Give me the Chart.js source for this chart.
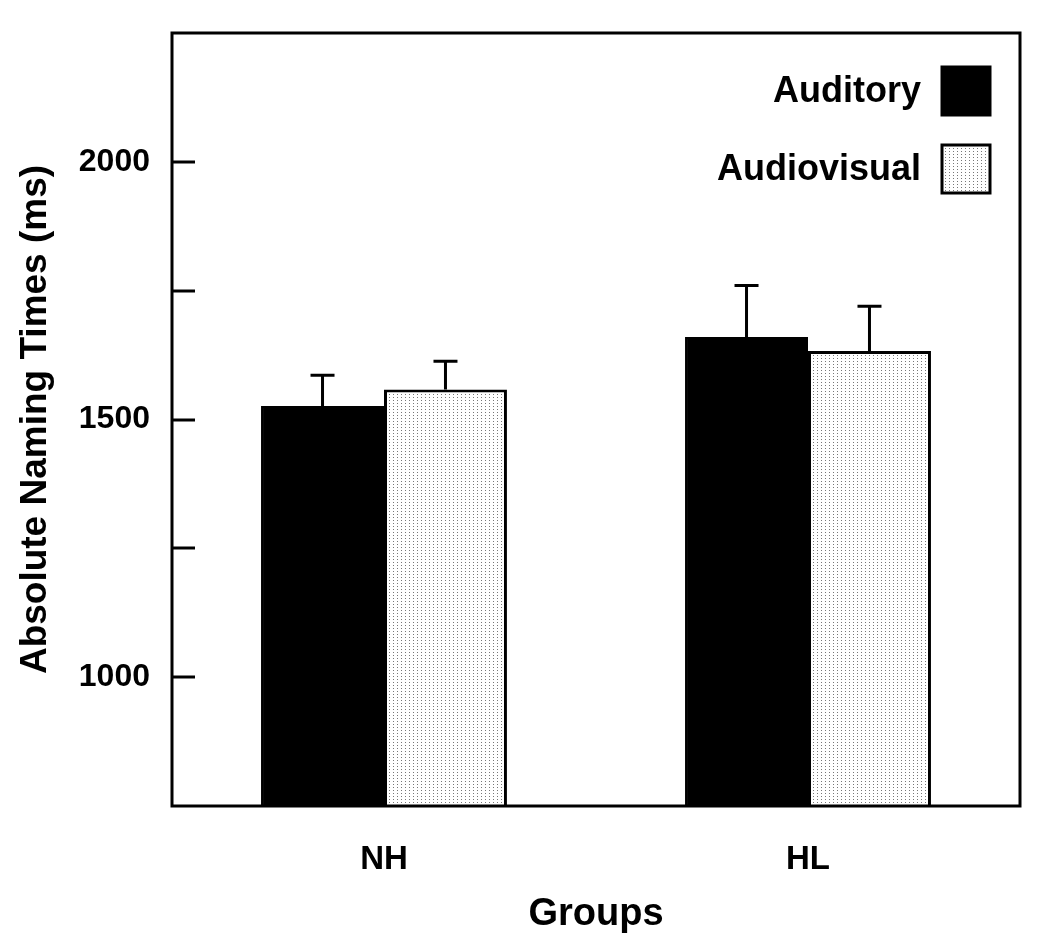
<!DOCTYPE html>
<html>
<head>
<meta charset="utf-8">
<script src="https://cdn.jsdelivr.net/npm/chart.js@4/dist/chart.umd.min.js"></script>
<style>
  html, body { margin: 0; padding: 0; background: #fff; }
  #wrap { width: 1050px; height: 951px; }
</style>
</head>
<body>
<div id="wrap"><canvas id="c" width="1050" height="951"></canvas></div>
<script>
// data
const groups = ['NH', 'HL'];
const seriesNames = ['Auditory', 'Audiovisual'];
const auditory = [1526, 1660];
const audiovisual = [1558, 1633];
const auditoryErr = [60, 100];
const audiovisualErr = [55, 87];
const yTicks = [1000, 1500, 2000];

const FONT = "'Liberation Sans', Arial, sans-serif";

const ctx = document.getElementById('c').getContext('2d');

// dotted fill for the audiovisual bars
const dots = ctx.createPattern((() => {
  const p = document.createElement('canvas');
  p.width = 4; p.height = 3;
  const g = p.getContext('2d');
  g.fillStyle = '#fff';
  g.fillRect(0, 0, 4, 3);
  g.fillStyle = '#777';
  g.fillRect(1, 1, 1, 1);
  return p;
})(), 'repeat');

const errs = [auditoryErr, audiovisualErr];

// frame, inward ticks, error bars, legend
const extras = {
  id: 'extras',
  afterDatasetsDraw(chart) {
    const c = chart.ctx;
    const y = chart.scales.y;
    const a = chart.chartArea;
    c.save();
    c.strokeStyle = '#000';
    // error bars (upper only)
    c.lineWidth = 3;
    chart.data.datasets.forEach((ds, i) => {
      const meta = chart.getDatasetMeta(i);
      meta.data.forEach((bar, j) => {
        const top = y.getPixelForValue(ds.data[j] + errs[i][j]);
        c.beginPath();
        c.moveTo(bar.x, bar.y);
        c.lineTo(bar.x, top);
        c.moveTo(bar.x - 12, top);
        c.lineTo(bar.x + 12, top);
        c.stroke();
      });
    });
    // inward ticks every 250
    for (let v = 1000; v <= 2000; v += 250) {
      const py = Math.round(y.getPixelForValue(v));
      c.beginPath();
      c.moveTo(a.left, py);
      c.lineTo(a.left + 23, py);
      c.stroke();
    }
    // frame
    c.strokeRect(a.left, a.top, a.right - a.left, a.bottom - a.top);
    // legend
    c.font = 'bold 36px ' + FONT;
    c.textAlign = 'right';
    c.textBaseline = 'middle';
    const rows = [91, 169];
    chart.data.datasets.forEach((ds, i) => {
      c.fillStyle = '#000';
      c.fillText(ds.label, 921, rows[i] + 1);
      c.fillStyle = ds.backgroundColor;
      c.fillRect(942, rows[i] - 24, 48, 48);
      c.strokeRect(942, rows[i] - 24, 48, 48);
    });
    c.restore();
  }
};

new Chart(ctx, {
  type: 'bar',
  data: {
    labels: groups,
    datasets: [
      { label: seriesNames[0], data: auditory, backgroundColor: '#000', borderColor: '#000', borderWidth: 2 },
      { label: seriesNames[1], data: audiovisual, backgroundColor: dots, borderColor: '#000', borderWidth: 3 }
    ]
  },
  options: {
    responsive: false,
    animation: false,
    base: 750,
    categoryPercentage: 0.58,
    barPercentage: 1,
    layout: { padding: { left: 0, right: 30, top: 33, bottom: 0 } },
    plugins: { legend: { display: false }, tooltip: { enabled: false } },
    scales: {
      x: {
        grid: { display: false, drawTicks: false },
        border: { display: false },
        ticks: { color: '#000', font: { family: FONT, size: 33, weight: 'bold' }, padding: 34 },
        title: { display: true, text: 'Groups', color: '#000', font: { family: FONT, size: 38, weight: 'bold' }, padding: { top: 8, bottom: 14 } },
        afterFit: s => { s.height = 145; s.paddingLeft = 0; s.paddingRight = 0; }
      },
      y: {
        min: 750,
        max: 2250,
        afterBuildTicks: s => { s.ticks = yTicks.map(v => ({ value: v })); },
        grid: { display: false, drawTicks: false },
        border: { display: false },
        ticks: { color: '#000', font: { family: FONT, size: 32, weight: 'bold' }, padding: 22, callback: v => String(v) },
        title: { display: true, text: 'Absolute Naming Times (ms)', color: '#000', font: { family: FONT, size: 37, weight: 'bold' }, padding: { top: 14, bottom: 0 } },
        afterFit: s => { s.width = 172; s.paddingTop = 0; s.paddingBottom = 0; }
      }
    }
  },
  plugins: [extras]
});
</script>
</body>
</html>
